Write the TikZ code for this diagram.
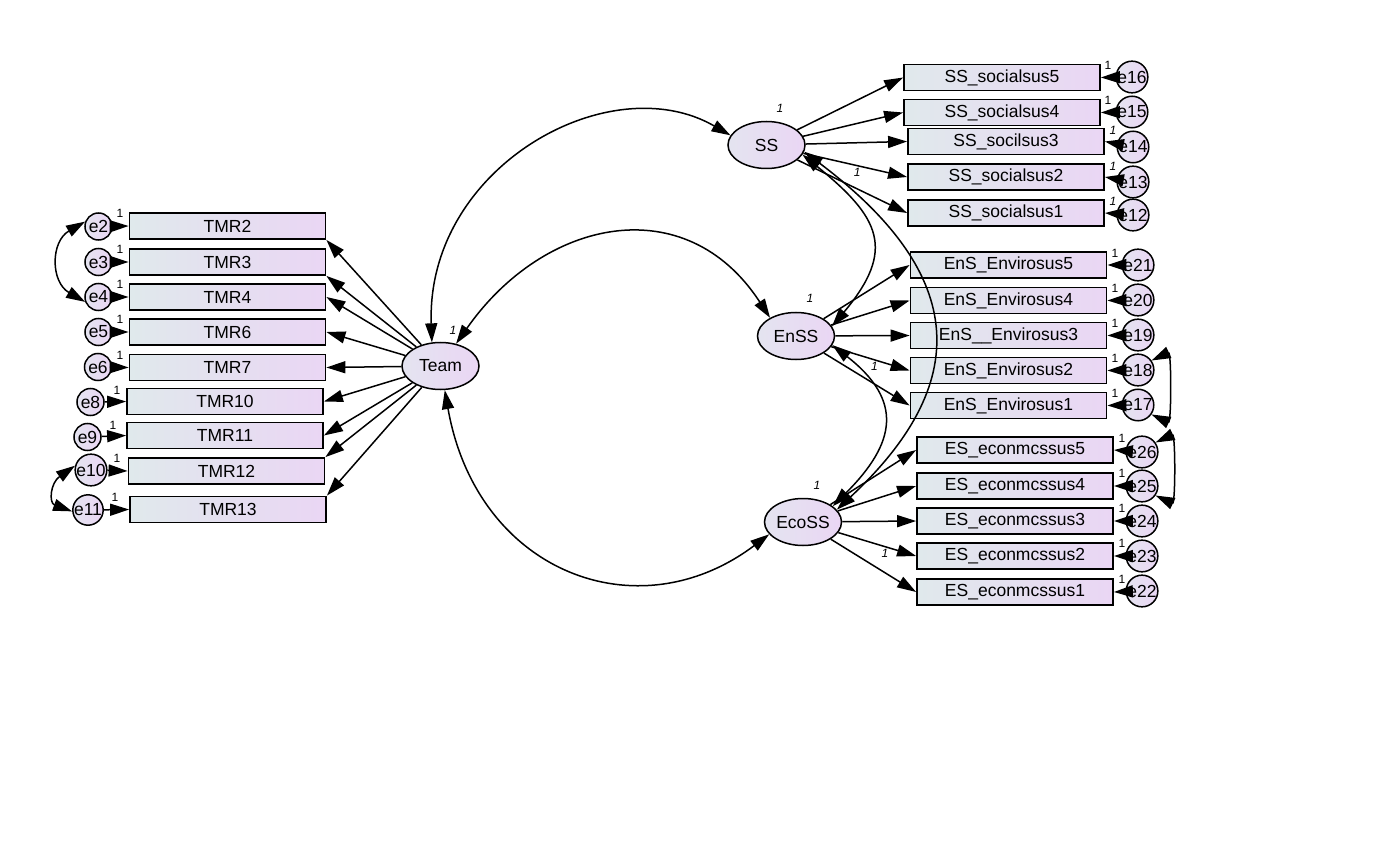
\documentclass[tikz,border=0pt]{standalone}
\usepackage{fontspec}
\setmainfont{Liberation Sans}
\usetikzlibrary{arrows.meta,shapes.geometric}
\definecolor{boxl}{RGB}{224,233,236}
\definecolor{boxr}{RGB}{234,214,244}
\definecolor{latl}{RGB}{228,228,240}

\begin{document}
\begin{tikzpicture}[%
x=1pt, y=-1pt,
font=\fontsize{17.5}{20}\selectfont,
obsvar/.style={draw, line width=1.8pt, minimum width=196pt, minimum height=26pt, inner sep=0pt, left color=boxl, right color=boxr},
latvar/.style={draw, ellipse, line width=1.5pt, minimum width=77pt, minimum height=47pt, inner sep=0pt, left color=latl, right color=boxr},
errvar/.style={draw, circle, line width=1.5pt, minimum size=27pt, inner sep=0pt, left color=latl, right color=boxr},
regr/.style={line width=1.5pt, -{Triangle[length=19pt,width=12pt]}},
covar/.style={line width=1.5pt, {Triangle[length=19pt,width=12pt]}-{Triangle[length=19pt,width=12pt]}},
fixone/.style={font=\fontsize{12}{12}\selectfont, inner sep=0pt},
fixit/.style={font=\fontsize{12}{12}\selectfont\itshape, inner sep=0pt},
]
\useasboundingbox (0,0) rectangle (1400,850);
%% latent variables;
\node[latvar] (team) at (440.5,366) {Team};
\node[latvar] (ss) at (766.5,145) {SS};
\node[latvar] (enss) at (796,336) {EnSS};
\node[latvar] (eco) at (803,522) {EcoSS};
%% observed, team;
\node[obsvar] (tmr2) at (227.5,226) {TMR2};
\node[obsvar] (tmr3) at (227.5,262) {TMR3};
\node[obsvar] (tmr4) at (227.5,297) {TMR4};
\node[obsvar] (tmr6) at (227.5,332) {TMR6};
\node[obsvar] (tmr7) at (227.5,367.5) {TMR7};
\node[obsvar] (tmr10) at (225,401.5) {TMR10};
\node[obsvar] (tmr11) at (225,435.5) {TMR11};
\node[obsvar] (tmr12) at (226.5,471) {TMR12};
\node[obsvar] (tmr13) at (228,509.5) {TMR13};
%% observed, social;
\node[obsvar] (s5) at (1002,77.5) {SS\_socialsus5};
\node[obsvar] (s4) at (1002,112.5) {SS\_socialsus4};
\node[obsvar] (s3) at (1006,141.5) {SS\_socilsus3};
\node[obsvar] (s2) at (1006,177) {SS\_socialsus2};
\node[obsvar] (s1) at (1006,213) {SS\_socialsus1};
%% observed, environmental;
\node[obsvar] (v5) at (1008.5,265) {EnS\_Envirosus5};
\node[obsvar] (v4) at (1008.5,300.5) {EnS\_Envirosus4};
\node[obsvar] (v3) at (1008.5,335.5) {EnS\_\_Envirosus3};
\node[obsvar] (v2) at (1008.5,370.5) {EnS\_Envirosus2};
\node[obsvar] (v1) at (1008.5,405.5) {EnS\_Envirosus1};
%% observed, economic;
\node[obsvar] (c5) at (1015,450) {ES\_econmcssus5};
\node[obsvar] (c4) at (1015,486) {ES\_econmcssus4};
\node[obsvar] (c3) at (1015,521) {ES\_econmcssus3};
\node[obsvar] (c2) at (1015,556) {ES\_econmcssus2};
\node[obsvar] (c1) at (1015,592) {ES\_econmcssus1};
%% errors;
\node[errvar] (e2) at (98.5,226.5) {e2};
\node[errvar] (e3) at (98.5,262) {e3};
\node[errvar] (e4) at (98.5,297) {e4};
\node[errvar] (e5) at (98.5,332) {e5};
\node[errvar] (e6) at (98,367) {e6};
\node[errvar] (e8) at (90.5,402) {e8};
\node[errvar] (e9) at (87.5,437) {e9};
\node[errvar] (e10) at (91,470) {e10};
\node[errvar] (e11) at (88,510) {e11};
\node[errvar] (e16) at (1132,77) {e16};
\node[errvar] (e15) at (1132,112) {e15};
\node[errvar] (e14) at (1133,147) {e14};
\node[errvar] (e13) at (1133,182) {e13};
\node[errvar] (e12) at (1133,215) {e12};
\node[errvar] (e21) at (1138,265) {e21};
\node[errvar] (e20) at (1138,300) {e20};
\node[errvar] (e19) at (1138,335) {e19};
\node[errvar] (e18) at (1138,370) {e18};
\node[errvar] (e17) at (1138,405) {e17};
\node[errvar] (e26) at (1142,452) {e26};
\node[errvar] (e25) at (1142,486) {e25};
\node[errvar] (e24) at (1142,521) {e24};
\node[errvar] (e23) at (1142,556) {e23};
\node[errvar] (e22) at (1142,591) {e22};
%% loadings, team;
\draw[regr] (team) -- (tmr2.south east);
\draw[regr] (team) -- (tmr3.south east);
\draw[regr] (team) -- (tmr4.east);
\draw[regr] (team) -- (tmr6.east);
\draw[regr] (team) -- (tmr7.east);
\draw[regr] (team) -- (tmr10.east);
\draw[regr] (team) -- (tmr11.east);
\draw[regr] (team) -- (tmr12.north east);
\draw[regr] (team) -- (tmr13.north east);
%% loadings, social;
\draw[regr] (ss) -- (s5.west);
\draw[regr] (ss) -- (s4.west);
\draw[regr] (ss) -- (s3.west);
\draw[regr] (ss) -- node[fixit, pos=0.52, below=2pt] (ls2) {1} (s2.west);
\draw[regr] (ss) -- (s1.west);
%% loadings, environmental;
\draw[regr] (enss) -- (v5.west);
\draw[regr] (enss) -- (v4.west);
\draw[regr] (enss) -- (v3.west);
\draw[regr] (enss) -- node[fixit, pos=0.55, below=2pt] (lv2) {1} (v2.west);
\draw[regr] (enss) -- (v1.west);
%% loadings, economic;
\draw[regr] (eco) -- (c5.west);
\draw[regr] (eco) -- (c4.west);
\draw[regr] (eco) -- (c3.west);
\draw[regr] (eco) -- node[fixit, pos=0.6, below=2pt] (lc2) {1} (c2.west);
\draw[regr] (eco) -- (c1.west);
%% error paths;
\draw[regr] (e2) -- (tmr2.west);
\draw[regr] (e3) -- (tmr3.west);
\draw[regr] (e4) -- (tmr4.west);
\draw[regr] (e5) -- (tmr6.west);
\draw[regr] (e6) -- (tmr7.west);
\draw[regr] (e8) -- (tmr10.west);
\draw[regr] (e9) -- (tmr11.west);
\draw[regr] (e10) -- (tmr12.west);
\draw[regr] (e11) -- (tmr13.west);
\draw[regr] (e16) -- (s5.east);
\draw[regr] (e15) -- (s4.east);
\draw[regr] (e14) -- (s3.east);
\draw[regr] (e13) -- (s2.east);
\draw[regr] (e12) -- (s1.east);
\draw[regr] (e21) -- (v5.east);
\draw[regr] (e20) -- (v4.east);
\draw[regr] (e19) -- (v3.east);
\draw[regr] (e18) -- (v2.east);
\draw[regr] (e17) -- (v1.east);
\draw[regr] (e26) -- (c5.east);
\draw[regr] (e25) -- (c4.east);
\draw[regr] (e24) -- (c3.east);
\draw[regr] (e23) -- (c2.east);
\draw[regr] (e22) -- (c1.east);
%% error weights;
\node[fixone] (w2) at (120,213) {1};
\node[fixone] (w3) at (120,249) {1};
\node[fixone] (w4) at (120,284) {1};
\node[fixone] (w5) at (120,319) {1};
\node[fixone] (w6) at (120,355) {1};
\node[fixone] (w8) at (117,390) {1};
\node[fixone] (w9) at (113,425) {1};
\node[fixone] (w10) at (117,458) {1};
\node[fixone] (w11) at (115,497) {1};
\node[fixone] (w16) at (1108,65) {1};
\node[fixone] (w15) at (1108,100) {1};
\node[fixit] (w14) at (1113,130) {1};
\node[fixit] (w13) at (1113,166) {1};
\node[fixit] (w12) at (1113,201) {1};
\node[fixone] (w21) at (1115,253) {1};
\node[fixone] (w20) at (1115,288) {1};
\node[fixone] (w19) at (1115,323) {1};
\node[fixone] (w18) at (1115,358) {1};
\node[fixone] (w17) at (1115,393) {1};
\node[fixone] (w26) at (1122,438) {1};
\node[fixone] (w25) at (1122,473) {1};
\node[fixone] (w24) at (1122,508) {1};
\node[fixone] (w23) at (1122,543) {1};
\node[fixone] (w22) at (1122,579) {1};
%% variances;
\node[fixit] (vteam) at (453,330) {1};
\node[fixit] (vss) at (780,108) {1};
\node[fixit] (venss) at (810,298) {1};
\node[fixit] (veco) at (817,485) {1};
%% covariances;
\draw[covar] (team.110) to[out=92, in=150, out distance=175pt, in distance=140pt] (ss.165);
\draw[covar] (team.55) to[out=55, in=123, out distance=154pt, in distance=154pt] (enss.145);
\draw[covar] (team.280) to[out=280, in=217, out distance=185pt, in distance=165pt] (eco.200);
\draw[covar] (ss.-15) to[out=-39, in=50, out distance=100pt, in distance=100pt] (enss.15);
\draw[covar] (ss.-10) to[out=-37, in=43, out distance=195pt, in distance=195pt] (eco.20);
\draw[covar] (enss.-14) to[out=-38, in=45, out distance=90pt, in distance=90pt] (eco.28);
\draw[covar] (e2.160) to[out=210, in=150, out distance=40pt, in distance=40pt] (e4.200);
\draw[covar] (e10.165) to[out=215, in=160, out distance=30pt, in distance=25pt] (e11.185);
\draw[covar] (e18.35) to[out=25, in=-25, out distance=22pt, in distance=22pt] (e17.-35);
\draw[covar] (e26.35) to[out=25, in=-25, out distance=22pt, in distance=22pt] (e25.-35);
\end{tikzpicture}
\end{document}
